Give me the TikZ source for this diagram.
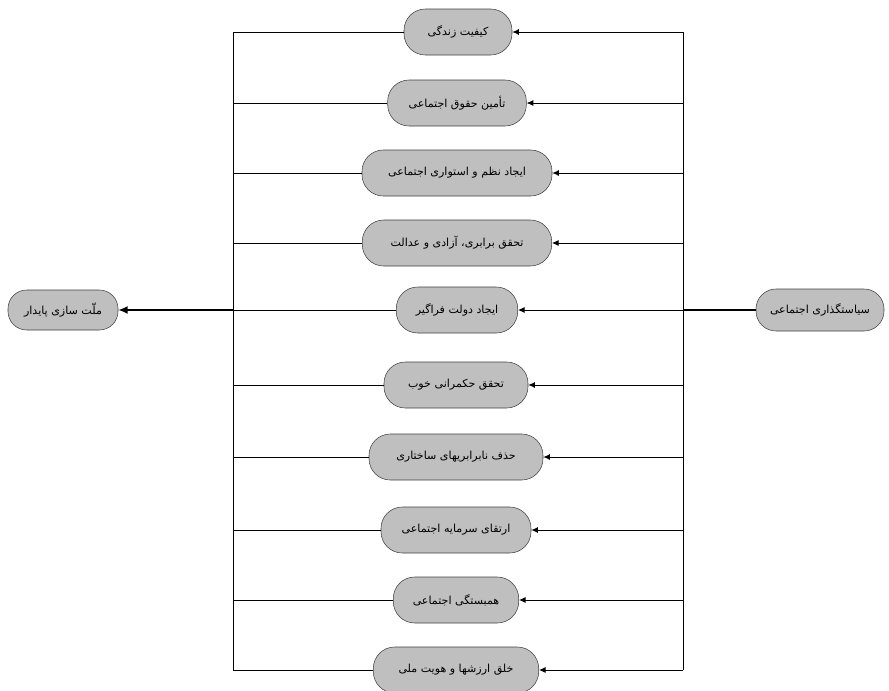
\documentclass[tikz,border=0pt]{standalone}
\usepackage{fontspec}
\newfontfamily\fafont[Script=Arabic]{DejaVu Sans}
\TeXXeTstate=1
\usetikzlibrary{arrows.meta}
\newcommand{\fa}[1]{\fafont\beginR #1\endR}
\begin{document}
\begin{tikzpicture}[x=0.75pt,y=-0.75pt,
  goal/.style={draw=black!75,fill=black!25,rounded corners=16pt,minimum height=34.5pt,inner sep=2pt,font=\fafont\fontsize{8.3}{10}\selectfont},
  link/.style={line width=0.7pt},
  feed/.style={line width=0.7pt,-{Latex[length=5pt,width=4.5pt]}}]
\useasboundingbox (0,0) rectangle (889,690);
%
\node (policy)   at (820,310)  [goal,minimum width=96pt,minimum height=31.5pt,rounded corners=15pt] {\fa{سیاستگذاری اجتماعی}};
\node (nation)   at (63,310)   [goal,minimum width=82.5pt,minimum height=30pt,rounded corners=14pt] {\fa{ملّت سازی پایدار}};
%
\node (life)     at (458,32)   [goal,minimum width=81pt]    {\fa{کیفیت زندگی}};
\node (rights)   at (457,103)  [goal,minimum width=104pt]   {\fa{تأمین حقوق اجتماعی}};
\node (order)    at (457,173)  [goal,minimum width=142.5pt] {\fa{ایجاد نظم و استواری اجتماعی}};
\node (justice)  at (457,243)  [goal,minimum width=142pt]   {\fa{تحقق برابری، آزادی و عدالت}};
\node (state)    at (457,310)  [goal,minimum width=91pt]    {\fa{ایجاد دولت فراگیر}};
\node (gov)      at (456,385)  [goal,minimum width=108pt]   {\fa{تحقق حکمرانی خوب}};
\node (equal)    at (456,457)  [goal,minimum width=130.5pt] {\fa{حذف نابرابریهای ساختاری}};
\node (capital)  at (456,530)  [goal,minimum width=112.5pt] {\fa{ارتقای سرمایه اجتماعی}};
\node (unity)    at (456,600)  [goal,minimum width=94pt]    {\fa{همبستگی اجتماعی}};
\node (identity) at (456,670)  [goal,minimum width=124pt]   {\fa{خلق ارزشها و هویت ملی}};
%
\coordinate (rbus) at (683,310);
\coordinate (lbus) at (233,310);
%
\draw[line width=1.1pt] (policy) -- (rbus);
\draw[link] (life.east -| rbus) -- (identity.east -| rbus);
\draw[link] (life.west -| lbus) -- (identity.west -| lbus);
\draw[line width=1.3pt,-{Latex[length=7pt,width=6pt]}] (lbus) -- (nation);
% feeds
\foreach \g in {life,rights,order,justice,state,gov,equal,capital,unity,identity}{
  \draw[feed] (\g.east -| rbus) -- (\g.east);
  \draw[link] (\g.west) -- (\g.west -| lbus);
}
\end{tikzpicture}
\end{document}
